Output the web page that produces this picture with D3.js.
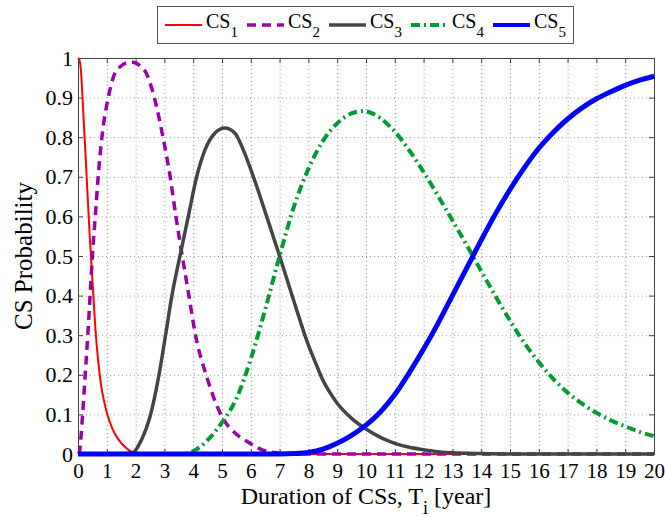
<!DOCTYPE html>
<html>
<head>
<meta charset="utf-8">
<script src="https://cdn.jsdelivr.net/npm/d3@7"></script>
<style>
  body { margin: 0; background: #fff; }
  svg text { font-family: "Liberation Serif", "Times New Roman", serif; fill: #000; }
</style>
</head>
<body>
<div id="chart"></div>
<script>
// values: [duration (year), probability]
const cs1 = [[0,1],[0.05,0.995],[0.1,0.97],[0.15,0.91],[0.2,0.84],[0.3,0.70],[0.4,0.56],[0.5,0.44],
  [0.6,0.32],[0.7,0.235],[0.8,0.175],[0.9,0.135],[1.0,0.105],[1.2,0.063],[1.4,0.037],[1.6,0.02],
  [1.8,0.008],[2.0,0.003],[2.4,0],[20,0]];
const cs2 = [[0,0],[0.05,0.005],[0.1,0.04],[0.16,0.1],[0.25,0.2],[0.34,0.30],[0.42,0.40],[0.5,0.50],
  [0.6,0.60],[0.7,0.70],[0.83,0.80],[1.05,0.90],[1.35,0.97],[1.85,0.99],[2.3,0.97],[2.65,0.90],
  [2.95,0.80],[3.2,0.70],[3.4,0.60],[3.62,0.50],[3.85,0.40],[4.08,0.30],[4.47,0.195],[5.0,0.094],
  [5.5,0.05],[5.8,0.035],[6.6,0.006],[7.5,0],[20,0]];
const cs3 = [[0,0],[1.5,0],[1.9,0.003],[2.2,0.035],[2.5,0.094],[2.8,0.195],[3.04,0.30],[3.26,0.40],
  [3.54,0.50],[3.83,0.60],[4.12,0.70],[4.41,0.768],[4.75,0.81],[5.1,0.823],[5.45,0.81],[5.74,0.768],
  [6.09,0.70],[6.55,0.60],[7.0,0.50],[7.5,0.385],[8.0,0.275],[8.25,0.23],[8.5,0.187],[8.75,0.155],
  [9.0,0.128],[9.5,0.09],[10,0.063],[10.5,0.042],[11,0.027],[11.5,0.017],[12,0.011],[12.5,0.006],
  [13,0.003],[14,0.001],[15,0],[20,0]];
const cs4 = [[0,0],[3.7,0],[4.0,0.007],[4.5,0.035],[5.0,0.08],[5.5,0.14],[6.0,0.24],[6.5,0.365],
  [7.0,0.50],[7.5,0.625],[8.0,0.72],[8.5,0.79],[9.0,0.835],[9.5,0.86],[9.9,0.866],[10.5,0.848],
  [11,0.814],[11.5,0.767],[12,0.712],[12.5,0.652],[13,0.59],[13.5,0.527],[14,0.462],[14.5,0.398],
  [15,0.337],[15.5,0.28],[16,0.232],[16.5,0.19],[17,0.155],[17.5,0.127],[18,0.104],[18.5,0.085],
  [19,0.07],[19.5,0.056],[20,0.045]];
const cs5 = [[0,0],[7,0],[7.5,0.001],[8,0.004],[8.5,0.012],[9,0.027],[9.5,0.047],[10,0.073],
  [10.5,0.106],[11,0.15],[11.5,0.205],[12,0.265],[12.5,0.33],[13,0.4],[13.5,0.47],[14,0.54],
  [14.5,0.607],[15,0.668],[15.5,0.723],[16,0.772],[16.5,0.812],[17,0.846],[17.5,0.874],
  [18,0.897],[18.5,0.915],[19,0.931],[19.5,0.944],[20,0.954]];

const seriesNames = ["1", "2", "3", "4", "5"];
const seriesData = [cs1, cs2, cs3, cs4, cs5];
const seriesColors = ["#ff0000", "#9900aa", "#444444", "#009933", "#0000ff"];
const seriesWidths = [2, 3.5, 3.5, 4, 5];
const seriesDash = [null, "9,6", null, "9,4,2,4", null];

const xTicks = d3.range(0, 21, 1);
const yTicks = d3.range(0, 11, 1).map(d => d / 10);

const width = 665, height = 517;
const margin = { top: 58, right: 11, bottom: 63, left: 78 };
const w = width - margin.left - margin.right;
const h = height - margin.top - margin.bottom;

const svg = d3.select("#chart").append("svg")
    .attr("width", width)
    .attr("height", height);

const g = svg.append("g")
    .attr("transform", `translate(${margin.left},${margin.top})`);

const x = d3.scaleLinear().domain([0, 20]).range([0, w]);
const y = d3.scaleLinear().domain([0, 1]).range([h, 0]);

// dotted grid
g.append("g")
    .attr("class", "grid")
    .attr("transform", `translate(0,${h})`)
    .call(d3.axisBottom(x).tickValues(xTicks.slice(1, -1)).tickSize(-h).tickFormat(""));
g.append("g")
    .attr("class", "grid")
    .call(d3.axisLeft(y).tickValues(yTicks.slice(1, -1)).tickSize(-w).tickFormat(""));
g.selectAll(".grid .domain").remove();
g.selectAll(".grid line")
    .attr("stroke", "#9a9a9a")
    .attr("stroke-width", 1)
    .attr("stroke-dasharray", "1,3");

// axes with inward ticks on all four sides
const yFmt = d => (d === 0 || d === 1) ? String(d) : d.toFixed(1);

const xAxis = g.append("g")
    .attr("transform", `translate(0,${h})`)
    .call(d3.axisBottom(x).tickValues(xTicks).tickSize(-5).tickPadding(9).tickFormat(d3.format("d")));
const yAxis = g.append("g")
    .call(d3.axisLeft(y).tickValues(yTicks).tickSize(-5).tickPadding(5).tickFormat(yFmt));
const topAxis = g.append("g")
    .call(d3.axisTop(x).tickValues(xTicks).tickSize(-5).tickFormat(""));
const rightAxis = g.append("g")
    .attr("transform", `translate(${w},0)`)
    .call(d3.axisRight(y).tickValues(yTicks).tickSize(-5).tickFormat(""));

[xAxis, yAxis, topAxis, rightAxis].forEach(a => {
    a.select(".domain").attr("stroke", "#404040");
    a.selectAll(".tick line").attr("stroke", "#404040");
    a.selectAll("text").attr("fill", "#000");
});
xAxis.selectAll("text").style("font-size", "21px");
yAxis.selectAll("text").style("font-size", "22px");

// curves
const line = d3.line()
    .x(d => x(d[0]))
    .y(d => y(d[1]))
    .curve(d3.curveMonotoneX);

seriesData.forEach((data, i) => {
    g.append("path")
        .datum(data)
        .attr("fill", "none")
        .attr("stroke", seriesColors[i])
        .attr("stroke-width", seriesWidths[i])
        .attr("stroke-dasharray", seriesDash[i])
        .attr("d", line);
});

// axis titles
const xTitle = svg.append("text")
    .attr("x", margin.left + w / 2)
    .attr("y", 504)
    .attr("text-anchor", "middle")
    .style("font-size", "24px");
xTitle.append("tspan").text("Duration of CSs, T");
xTitle.append("tspan").attr("dy", 10).style("font-size", "18px").text("i");
xTitle.append("tspan").attr("dy", -10).text(" [year]");

svg.append("text")
    .attr("transform", `translate(32,${margin.top + h / 2}) rotate(-90)`)
    .attr("text-anchor", "middle")
    .style("font-size", "25px")
    .text("CS Probability");

// legend
const legend = svg.append("g");
legend.append("rect")
    .attr("x", 157.5).attr("y", 6.5)
    .attr("width", 416).attr("height", 37)
    .attr("fill", "#fff")
    .attr("stroke", "#555")
    .attr("stroke-width", 1);

seriesNames.forEach((name, i) => {
    const lx = 165 + i * 82;
    legend.append("line")
        .attr("x1", lx).attr("x2", lx + 37)
        .attr("y1", 25).attr("y2", 25)
        .attr("stroke", seriesColors[i])
        .attr("stroke-width", Math.min(seriesWidths[i], 4))
        .attr("stroke-dasharray", seriesDash[i]);
    const t = legend.append("text")
        .attr("x", lx + 41)
        .attr("y", 28)
        .style("font-size", "20px");
    t.append("tspan").text("CS");
    t.append("tspan").attr("dy", 9).style("font-size", "15px").text(name);
});
</script>
</body>
</html>
